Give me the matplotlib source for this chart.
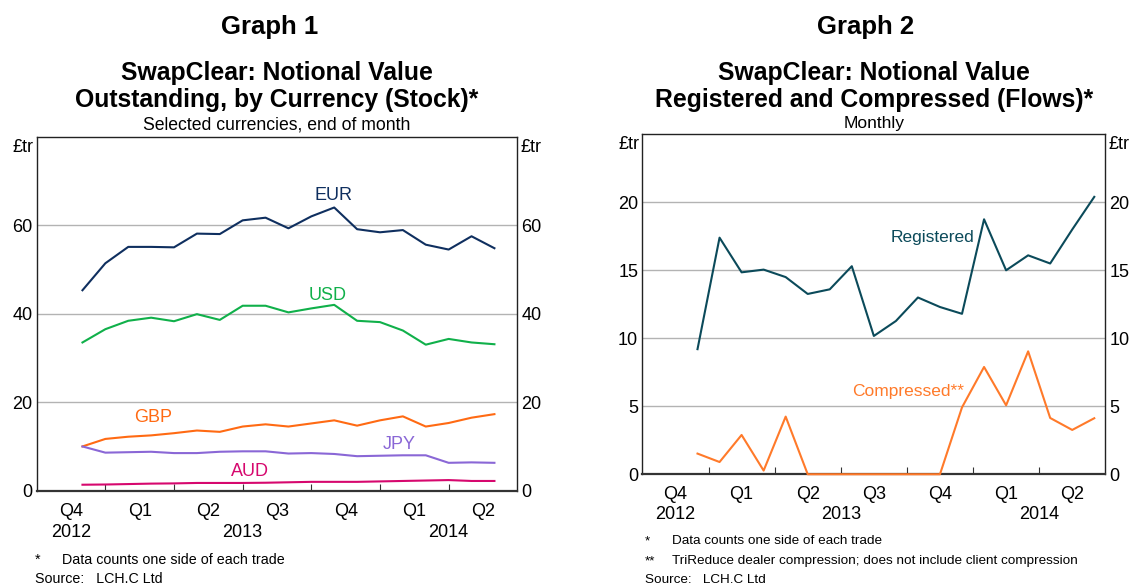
import numpy as np
import pandas as pd
import matplotlib
matplotlib.use("Agg")
import matplotlib.pyplot as plt

plt.rcParams["font.family"] = ["Liberation Sans", "DejaVu Sans"]

# monthly observations, Dec 2012 - Jun 2014
months = pd.period_range("2012-12", "2014-06", freq="M")

# Graph 1: stock, GBP trillion
eur = [45.3, 51.4, 55.1, 55.1, 55.0, 58.1, 58.0, 61.1, 61.7, 59.3,
       62.0, 64.0, 59.1, 58.4, 58.9, 55.6, 54.5, 57.5, 54.8]
usd = [33.5, 36.5, 38.4, 39.1, 38.3, 39.9, 38.6, 41.8, 41.8, 40.3,
       41.2, 42.0, 38.4, 38.1, 36.2, 33.0, 34.3, 33.5, 33.1]
gbp = [10.0, 11.7, 12.2, 12.5, 13.0, 13.6, 13.3, 14.5, 15.0, 14.5,
       15.2, 15.9, 14.7, 15.9, 16.8, 14.5, 15.3, 16.5, 17.3]
jpy = [10.0, 8.6, 8.7, 8.8, 8.5, 8.5, 8.8, 8.9, 8.9, 8.4,
       8.5, 8.3, 7.8, 7.9, 8.0, 8.0, 6.3, 6.4, 6.3]
aud = [1.35, 1.4, 1.5, 1.6, 1.65, 1.75, 1.75, 1.75, 1.8, 1.9,
       2.0, 2.0, 2.0, 2.1, 2.2, 2.3, 2.4, 2.2, 2.2]

# Graph 2: flows, GBP trillion
registered = [9.2, 17.4, 14.85, 15.05, 14.5, 13.26, 13.6, 15.3, 10.17, 11.27,
              13.0, 12.3, 11.8, 18.75, 15.0, 16.1, 15.5, 18.0, 20.4]
compressed = [1.52, 0.9, 2.89, 0.27, 4.24, 0, 0, 0, 0, 0,
              0, 0, 4.92, 7.89, 5.07, 9.04, 4.14, 3.26, 4.12]

quarter_labels = ["Q4", "Q1", "Q2", "Q3", "Q4", "Q1", "Q2"]
years = ["2012", "2013", "2014"]

start = pd.Period("2012-10", freq="M")
pos = np.array([(m - start).n for m in months], dtype=float)

fig = plt.figure(figsize=(11.29, 5.85), dpi=100)
ax1 = fig.add_axes([0.0325, 0.1612, 0.4257, 0.6051])
ax2 = fig.add_axes([0.569, 0.1893, 0.41, 0.5811])

TICK_FS = 13


def style(ax, ymax, step, ylab_y):
    ax.set_xlim(0, 21)
    ax.set_ylim(0, ymax)
    yt = np.arange(0, ymax, step)
    ax.set_yticks(yt)
    for v in yt[1:]:
        ax.axhline(v, color="#b3b3b3", lw=1, zorder=0)
    ax.tick_params(axis="y", length=0, labelsize=TICK_FS, pad=3,
                   left=False, right=False, labelleft=True, labelright=True)
    ax.set_xticks([3, 6, 9, 12, 15, 18])
    ax.set_xticklabels([])
    ax.tick_params(axis="x", direction="in", length=5, color="#333333")
    for s in ax.spines.values():
        s.set_color("#222222")
        s.set_linewidth(1)
    ax.spines["bottom"].set_linewidth(1.6)
    ax.spines["bottom"].set_color("#333333")
    qx = [1.5, 4.5, 7.5, 10.5, 13.5, 16.5, 19.5]
    for x, q in zip(qx, quarter_labels):
        ax.text(x, -0.06, q, transform=ax.get_xaxis_transform(),
                ha="center", va="center", fontsize=TICK_FS)
    for x, yr in zip([1.5, 9, 18], years):
        ax.text(x, -0.117, yr, transform=ax.get_xaxis_transform(),
                ha="center", va="center", fontsize=TICK_FS)
    ax.text(-0.006, ylab_y, "£tr", transform=ax.transAxes, ha="right",
            va="center", fontsize=TICK_FS)
    ax.text(1.006, ylab_y, "£tr", transform=ax.transAxes, ha="left",
            va="center", fontsize=TICK_FS)


style(ax1, 80, 20, 0.97)
style(ax2, 25, 5, 0.97)

lw = 1.5
ax1.plot(pos, eur, color="#0f2f5f", lw=lw, zorder=3)
ax1.plot(pos, usd, color="#10b04a", lw=lw, zorder=3)
ax1.plot(pos, gbp, color="#ff6a13", lw=lw, zorder=3)
ax1.plot(pos, jpy, color="#8a67d6", lw=lw, zorder=3)
ax1.plot(pos, aud, color="#d6086e", lw=lw, zorder=3)
lab = dict(fontsize=13, ha="center", va="center")
ax1.text(12.98, 66.8, "EUR", color="#0f2f5f", **lab)
ax1.text(12.72, 44.2, "USD", color="#10b04a", **lab)
ax1.text(5.08, 16.5, "GBP", color="#ff6a13", **lab)
ax1.text(15.86, 10.4, "JPY", color="#8a67d6", **lab)
ax1.text(9.31, 4.3, "AUD", color="#d6086e", **lab)

pos2 = pos + 0.5
ax2.plot(pos2, registered, color="#0b4a5a", lw=lw, zorder=3)
ax2.plot(pos2, compressed, color="#ff7a2a", lw=lw, zorder=3, clip_on=False)
lab2 = dict(fontsize=12.5, ha="center", va="center")
ax2.text(13.18, 17.4, "Registered", color="#0b4a5a", **lab2)
ax2.text(12.05, 6.12, "Compressed**", color="#ff7a2a", **lab2)

# titles
cx1, cx2 = 0.2455, 0.774
fig.text(0.239, 0.953, "Graph 1", ha="center", va="center", fontsize=18.5, weight="bold")
fig.text(cx1, 0.852, "SwapClear: Notional Value\nOutstanding, by Currency (Stock)*",
         ha="center", va="center", fontsize=17.8, weight="bold", linespacing=1.15)
fig.text(cx1, 0.786, "Selected currencies, end of month", ha="center",
         va="center", fontsize=12.7)
fig.text(0.767, 0.953, "Graph 2", ha="center", va="center", fontsize=18.5, weight="bold")
fig.text(cx2, 0.852, "SwapClear: Notional Value\nRegistered and Compressed (Flows)*",
         ha="center", va="center", fontsize=17.8, weight="bold", linespacing=1.15)
fig.text(cx2, 0.789, "Monthly", ha="center", va="center", fontsize=12.5)

# footnotes
fs = 10.3
fig.text(0.031, 0.043, "*", fontsize=fs, va="center")
fig.text(0.055, 0.043, "Data counts one side of each trade", fontsize=fs, va="center")
fig.text(0.031, 0.011, "Source:   LCH.C Ltd", fontsize=fs, va="center")
fs2 = 9.7
fig.text(0.571, 0.075, "*", fontsize=fs2, va="center")
fig.text(0.595, 0.075, "Data counts one side of each trade", fontsize=fs2, va="center")
fig.text(0.571, 0.041, "**", fontsize=fs2, va="center")
fig.text(0.595, 0.041, "TriReduce dealer compression; does not include client compression",
         fontsize=fs2, va="center")
fig.text(0.571, 0.009, "Source:   LCH.C Ltd", fontsize=fs2, va="center")

fig.savefig("out.png", dpi=100)
